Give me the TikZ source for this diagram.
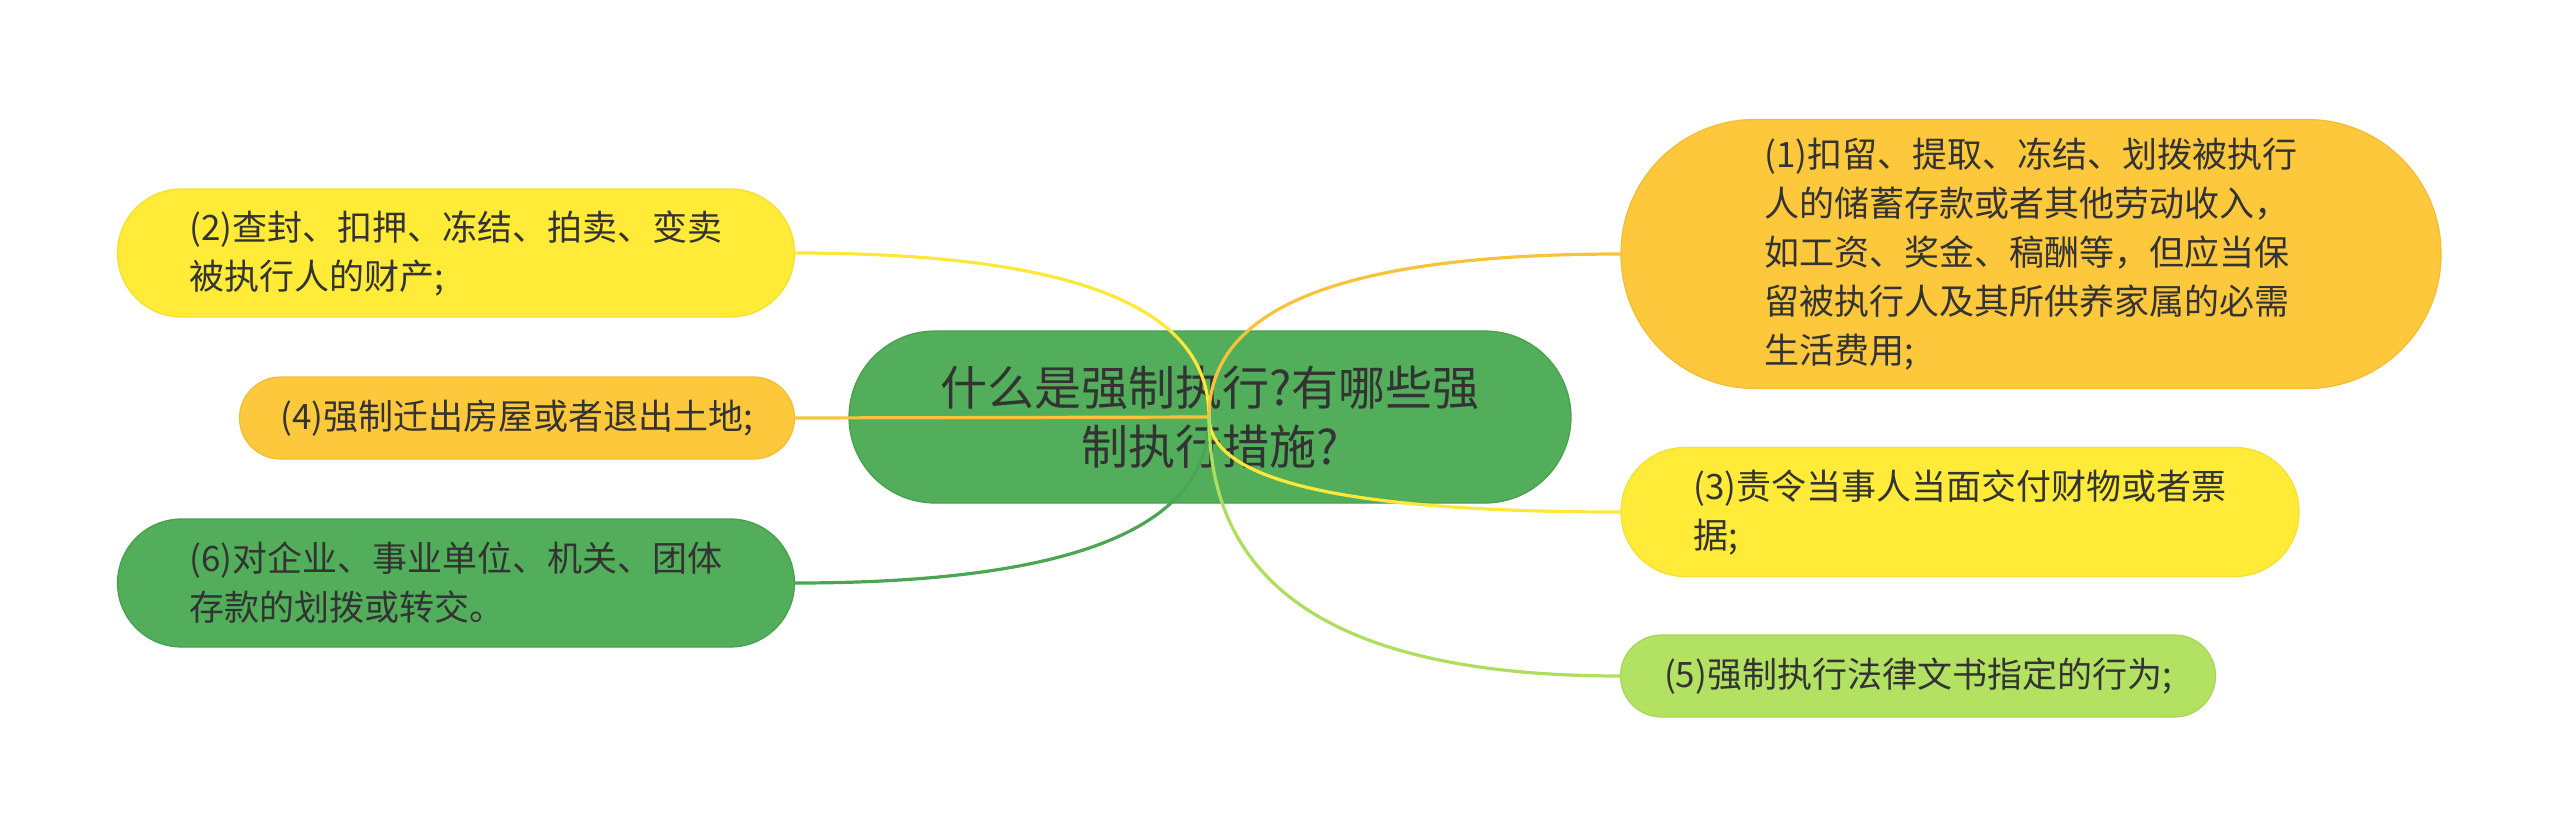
\documentclass[tikz,border=0pt]{standalone}
\usepackage{fontspec}
\newfontfamily\cjk{Noto Sans CJK SC}
\definecolor{cgreen}{HTML}{52AE5A}
\definecolor{cgreenb}{HTML}{47A04F}
\definecolor{cyellow}{HTML}{FFEB38}
\definecolor{cyellowb}{HTML}{F5DF2E}
\definecolor{corange}{HTML}{FDC83C}
\definecolor{corangeb}{HTML}{F3BD33}
\definecolor{clight}{HTML}{B3E262}
\definecolor{clightb}{HTML}{A6D656}
\definecolor{ctext}{HTML}{333333}
\definecolor{lyellow}{HTML}{FFE83A}
\definecolor{lorange}{HTML}{F8C23C}
\definecolor{llight}{HTML}{AEDF5C}
\definecolor{lgreen}{HTML}{4AA653}
\tikzset{
  box/.style={draw, line width=1.2pt, inner sep=0pt, text=ctext},
  childtext/.style={font=\cjk\fontsize{35}{49}\selectfont},
  link/.style={line width=3.2pt, line cap=round}
}
\begin{document}
\begin{tikzpicture}[x=1pt,y=-1pt]
\useasboundingbox[fill=white] (0,0) rectangle (2560,836);
% central
\node[box, fill=cgreen, draw=cgreenb, minimum width=722pt, minimum height=172pt,
  rounded corners=86pt, align=center, font=\cjk\fontsize{47}{59}\selectfont] (c) at (1210,417)
  {什么是强制执行?有哪些强\\制执行措施?};
\coordinate (hub) at (1209,417);
% children
\node[box, childtext, fill=corange, draw=corangeb, minimum width=820pt, minimum height=269pt,
  rounded corners=134pt, align=left] (n1) at (2031,254)
  {(1)扣留、提取、冻结、划拨被执行\\人的储蓄存款或者其他劳动收入，\\如工资、奖金、稿酬等，但应当保\\留被执行人及其所供养家属的必需\\生活费用;};
\node[box, childtext, fill=cyellow, draw=cyellowb, minimum width=677pt, minimum height=128pt,
  rounded corners=64pt, align=left] (n2) at (456,253)
  {(2)查封、扣押、冻结、拍卖、变卖\\被执行人的财产;};
\node[box, childtext, fill=corange, draw=corangeb, minimum width=555pt, minimum height=82pt,
  rounded corners=41pt, align=center] (n4) at (517,418)
  {(4)强制迁出房屋或者退出土地;};
\node[box, childtext, fill=cgreen, draw=cgreenb, minimum width=677pt, minimum height=128pt,
  rounded corners=64pt, align=left] (n6) at (456,583)
  {(6)对企业、事业单位、机关、团体\\存款的划拨或转交。};
\node[box, childtext, fill=cyellow, draw=cyellowb, minimum width=678pt, minimum height=129pt,
  rounded corners=64pt, align=left] (n3) at (1960,512)
  {(3)责令当事人当面交付财物或者票\\据;};
\node[box, childtext, fill=clight, draw=clightb, minimum width=595pt, minimum height=82pt,
  rounded corners=41pt, align=center] (n5) at (1918,676)
  {(5)强制执行法律文书指定的行为;};
% connectors
\draw[link, lgreen] (hub) .. controls +(0,91) and +(324,0) .. (n6.east);
\draw[link, lorange] (hub) -- (n4.east);
\draw[link, lyellow] (hub) .. controls +(0,-91) and +(324,0) .. (n2.east);
\draw[link, lorange] (hub) .. controls +(0,-91) and +(-322,0) .. (n1.west);
\draw[link, lyellow] (hub) .. controls +(0,52) and +(-322,0) .. (n3.west);
\draw[link, llight] (hub) .. controls +(0,143) and +(-322,0) .. (n5.west);
\end{tikzpicture}
\end{document}
